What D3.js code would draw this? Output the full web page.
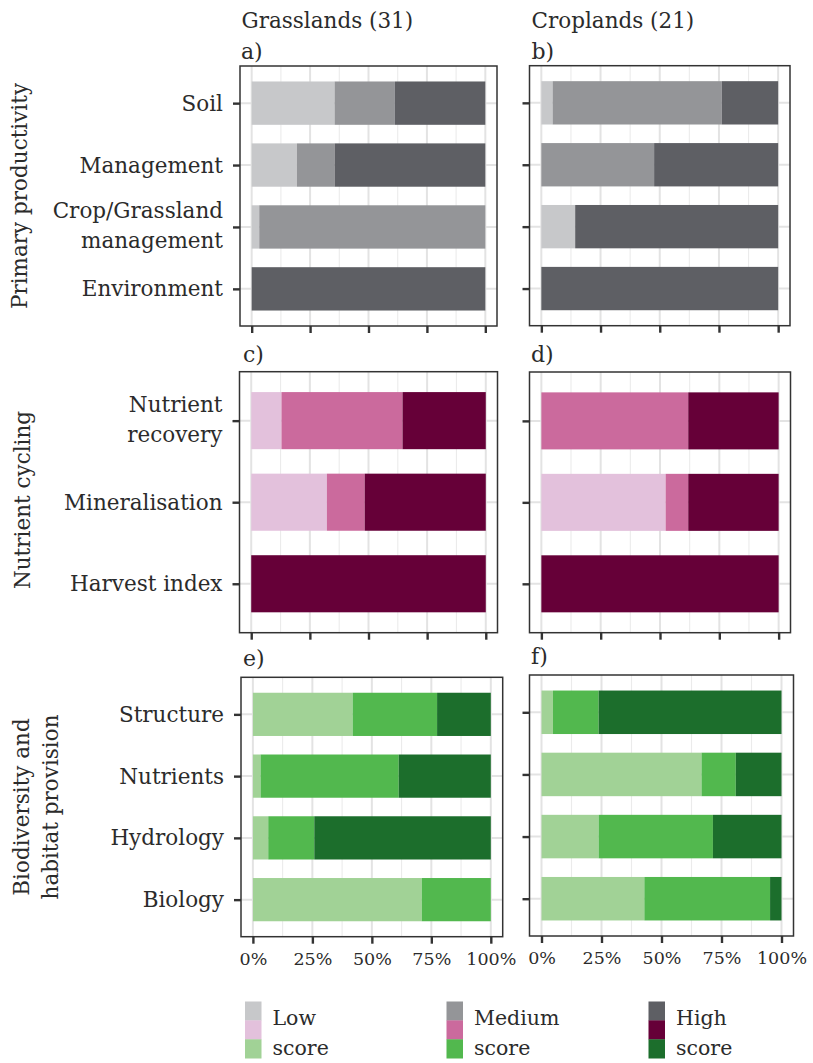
<!DOCTYPE html>
<html>
<head>
<meta charset="utf-8">
<script src="https://cdn.jsdelivr.net/npm/d3@7"></script>
<style>
  body { margin: 0; background: #fff; }
  svg { display: block; }
  text { font-family: "DejaVu Serif", serif; fill: #2b2b2b; }
</style>
</head>
<body>
<svg id="chart" width="813" height="1063"></svg>
<script>
// ---- data -------------------------------------------------------------
const scoreLevels = ["Low", "Medium", "High"];
const systemTitles = ["Grasslands (31)", "Croplands (21)"];
const groupTitles = [["Primary productivity"], ["Nutrient cycling"], ["Biodiversity and", "habitat provision"]];

const ppCategories = ["Soil", "Management", "Crop/Grassland\nmanagement", "Environment"];
const ncCategories = ["Nutrient\nrecovery", "Mineralisation", "Harvest index"];
const bdCategories = ["Structure", "Nutrients", "Hydrology", "Biology"];

// number of sites per score level: [Low, Medium, High]
const ppGrass = [[11, 8, 12], [6, 5, 20], [1, 30, 0], [0, 0, 31]];
const ppCrop  = [[1, 15, 5], [0, 10, 11], [3, 0, 18], [0, 0, 21]];
const ncGrass = [[4, 16, 11], [10, 5, 16], [0, 0, 31]];
const ncCrop  = [[0, 13, 8], [11, 2, 8], [0, 0, 21]];
const bdGrass = [[13, 11, 7], [1, 18, 12], [2, 6, 23], [22, 9, 0]];
const bdCrop  = [[1, 4, 16], [14, 3, 4], [5, 10, 6], [9, 11, 1]];

const greyColours  = ["#c7c8ca", "#949598", "#5e5f64"];
const pinkColours  = ["#e3c1dc", "#cb6a9d", "#660038"];
const greenColours = ["#a1d296", "#52b84e", "#1c6e2c"];

const pctTicks = [0, 0.25, 0.5, 0.75, 1];
const pctMinorTicks = [0.125, 0.375, 0.625, 0.875];

// ---- layout -----------------------------------------------------------
const panels = [
  { letter: "a)", cats: ppCategories, vals: ppGrass, cols: greyColours,  box: { x: 240,   y: 66,    w: 257,   h: 260 },   lx: 241,   ly: 58.5, left: true,  bottom: false },
  { letter: "b)", cats: ppCategories, vals: ppCrop,  cols: greyColours,  box: { x: 529.5, y: 65.7,  w: 260.5, h: 260 },   lx: 531.5, ly: 58.5, left: false, bottom: false },
  { letter: "c)", cats: ncCategories, vals: ncGrass, cols: pinkColours,  box: { x: 239.5, y: 371.7, w: 258,   h: 261 },   lx: 243,   ly: 362,  left: true,  bottom: false },
  { letter: "d)", cats: ncCategories, vals: ncCrop,  cols: pinkColours,  box: { x: 529.5, y: 372,   w: 261,   h: 260.7 }, lx: 531,   ly: 362,  left: false, bottom: false },
  { letter: "e)", cats: bdCategories, vals: bdGrass, cols: greenColours, box: { x: 241,   y: 677.3, w: 261.7, h: 259.4 }, lx: 243,   ly: 666,  left: true,  bottom: true },
  { letter: "f)", cats: bdCategories, vals: bdCrop,  cols: greenColours, box: { x: 529.5, y: 675,   w: 264,   h: 261 },   lx: 531,   ly: 664,  left: false, bottom: true }
];

const svg = d3.select("#chart");
const axisColour = "#333";
const tickLen = 7;

function drawPanel(p) {
  const { x, y, w, h } = p.box;
  const pad = w * 0.05 / 1.1;
  const xs = d3.scaleLinear().domain([0, 1]).range([x + pad, x + w - pad]);
  const ys = d3.scalePoint().domain(p.cats).range([y, y + h]).padding(0.6);
  const barH = ys.step() * 0.7;
  const g = svg.append("g");

  // panel background and grid
  g.append("rect").attr("x", x).attr("y", y).attr("width", w).attr("height", h).attr("fill", "#fff");
  g.selectAll("line.minor").data(pctMinorTicks).join("line")
    .attr("x1", d => xs(d)).attr("x2", d => xs(d)).attr("y1", y).attr("y2", y + h)
    .attr("stroke", "#ebebeb").attr("stroke-width", 1.1);
  g.selectAll("line.vmajor").data(pctTicks).join("line")
    .attr("x1", d => xs(d)).attr("x2", d => xs(d)).attr("y1", y).attr("y2", y + h)
    .attr("stroke", "#e3e3e3").attr("stroke-width", 2);
  g.selectAll("line.hmajor").data(p.cats).join("line")
    .attr("x1", x).attr("x2", x + w).attr("y1", d => ys(d)).attr("y2", d => ys(d))
    .attr("stroke", "#e3e3e3").attr("stroke-width", 2);

  // stacked proportional bars
  const segs = p.cats.flatMap((c, i) => {
    const tot = d3.sum(p.vals[i]);
    let cum = 0;
    return p.vals[i].map((v, k) => {
      const s = { cat: c, level: k, x0: cum / tot, x1: (cum + v) / tot };
      cum += v;
      return s;
    });
  }).filter(s => s.x1 > s.x0);
  g.selectAll("rect.seg").data(segs).join("rect")
    .attr("x", d => xs(d.x0)).attr("width", d => xs(d.x1) - xs(d.x0))
    .attr("y", d => ys(d.cat) - barH / 2).attr("height", barH)
    .attr("fill", d => p.cols[d.level]);

  // border
  g.append("rect").attr("x", x).attr("y", y).attr("width", w).attr("height", h)
    .attr("fill", "none").attr("stroke", axisColour).attr("stroke-width", 1.5);

  // y axis
  const yAxis = g.append("g").attr("transform", `translate(${x},0)`)
    .call(d3.axisLeft(ys).tickSize(tickLen).tickPadding(10).tickFormat(p.left ? d => d : () => ""));
  yAxis.select(".domain").remove();
  yAxis.selectAll(".tick line").attr("stroke", axisColour).attr("stroke-width", 2.4);
  yAxis.selectAll(".tick text").each(function (d) {
    const t = d3.select(this);
    if (!p.left) { t.remove(); return; }
    const lines = d.split("\n");
    const lh = 30;
    t.text(null).attr("dy", null).attr("fill", "#2b2b2b").style("font-size", "21.5px")
      .attr("font-family", null);
    lines.forEach((ln, i) => {
      t.append("tspan").attr("x", -(tickLen + 10))
        .attr("y", 7 - (lines.length - 1) * lh / 2 - 1.5 * (lines.length - 1) + i * lh)
        .text(ln);
    });
  });

  // x axis
  const xAxis = g.append("g").attr("transform", `translate(0,${y + h})`)
    .call(d3.axisBottom(xs).tickValues(pctTicks).tickSize(tickLen).tickPadding(9)
      .tickFormat(p.bottom ? d3.format(".0%") : () => ""));
  xAxis.select(".domain").remove();
  xAxis.selectAll(".tick line").attr("stroke", axisColour).attr("stroke-width", 2.4);
  xAxis.selectAll(".tick text").attr("fill", "#2b2b2b").attr("font-family", null).style("font-size", "17.5px");

  // panel letter
  svg.append("text").attr("x", p.lx).attr("y", p.ly).style("font-size", "22px").text(p.letter);
}

panels.forEach(drawPanel);

// column titles
svg.selectAll("text.col-title").data(systemTitles).join("text")
  .attr("x", (d, i) => [241.5, 531.5][i]).attr("y", 27.5)
  .style("font-size", "21.5px").text(d => d);

// row titles (rotated)
const rowCentres = [196, 500, 807];
const rowBaselines = [[27], [30], [29, 58]];
groupTitles.forEach((lines, r) => {
  lines.forEach((ln, i) => {
    svg.append("text")
      .attr("transform", `translate(${rowBaselines[r][i]},${rowCentres[r]}) rotate(-90)`)
      .attr("text-anchor", "middle").style("font-size", "21.5px").text(ln);
  });
});

// legend
const legendX = [245, 446.5, 648.5];
const swatchW = 16.5, swatchH = 18.9, legendTop = 1001.5;
const legendPalettes = [greyColours, pinkColours, greenColours];
scoreLevels.forEach((lvl, k) => {
  const lg = svg.append("g").attr("transform", `translate(${legendX[k]},${legendTop})`);
  legendPalettes.forEach((pal, j) => {
    lg.append("rect").attr("x", 0).attr("y", j * swatchH).attr("width", swatchW).attr("height", swatchH + 0.3)
      .attr("fill", pal[k]);
  });
  const t = lg.append("text").style("font-size", "20.5px");
  t.append("tspan").attr("x", swatchW + 11).attr("y", 23.5).text(lvl);
  t.append("tspan").attr("x", swatchW + 11).attr("y", 53.5).text("score");
});
</script>
</body>
</html>
